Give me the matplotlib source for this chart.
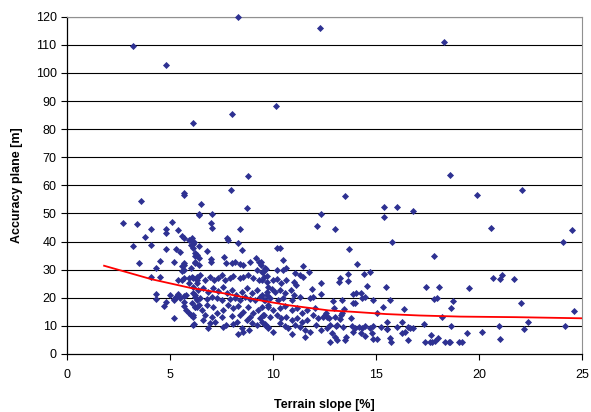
import numpy as np
import matplotlib
matplotlib.use('Agg')
import matplotlib.pyplot as plt

plt.rcParams['font.family'] = ['Liberation Sans', 'DejaVu Sans']

# (terrain slope [%], accuracy plane [m])
outlier_pts = [(3.2,109.7),(4.8,102.8),(8.3,119.8),(6.1,82.3),(8.0,85.3),(10.15,88.4),(8.8,63.4),
               (7.95,58.5),(12.3,115.9),(18.3,110.9),(18.6,63.7),(22.1,58.5),(13.5,56.2),(19.9,56.6),
               (16.8,50.9),(15.4,52.4),(16.0,52.4),(15.4,48.6),(12.35,49.8),(12.15,45.5),(13.0,44.5),
               (15.8,39.9),(13.7,37.2),(20.6,44.9),(24.5,44.1),(24.1,39.7),(17.8,34.9),(14.1,32.0)]

left_pts = [(2.7,46.5),(3.4,46.1),(4.1,44.5),(3.8,41.5),(3.2,38.5),(4.1,38.8),(3.5,32.5),(4.5,33.1),
            (4.3,30.6),(4.1,27.5),(4.5,27.3),(3.6,54.4),(5.1,46.9),(4.8,44.4),(4.8,43.0),(5.4,44.1),
            (5.6,42.1),(4.8,37.3),(5.3,37.4),(5.5,36.4),(5.2,32.6),(5.7,41.4),(5.9,40.7),(6.0,40.5),
            (6.1,39.3),(6.0,38.8),(6.1,37.7),(6.4,38.3),(6.2,35.8),(6.3,35.2),(5.7,32.2),(5.6,31.3),
            (5.7,29.9),(6.0,30.5),(6.2,32.2),(6.4,31.7),(5.4,26.3),(5.6,26.3),(5.7,26.9),(5.9,26.9),
            (6.3,27.5),(6.3,26.3),(6.3,25.1),(4.3,21.4),(4.3,19.5),(4.7,17.1),(4.8,18.6),(5.0,21.0),
            (5.2,19.4),(5.2,19.2),(5.3,20.2),(5.4,21.0),(5.5,19.8),(5.7,20.6),(5.8,21.0),(5.2,12.7),
            (5.7,18.6),(5.7,17.1),(5.8,15.7),(5.9,14.7),(6.0,13.9),(6.1,13.3),(6.1,10.3),(6.1,21.6),
            (6.2,21.0),(6.3,19.2),(6.4,17.4),(6.2,16.8),(6.4,49.5),(5.7,57.4),(5.7,56.7),(5.6,29.6),
            (5.7,31.5),(5.9,25.4),(6.1,27.0),(5.4,21.3),(5.3,20.4),(6.2,16.8)]

mid_pts = [(6.5,53.3),(6.4,49.7),(7.05,49.9),(7.0,46.7),(7.05,44.7),(8.75,51.8),(8.4,44.4),(7.75,41.2),
           (7.8,40.6),(8.3,39.4),(8.5,37.0),(6.05,41.2),(6.15,40.0),(6.8,36.7),(6.2,34.9),(6.4,34.0),
           (6.2,32.9),(7.0,33.7),(7.0,32.9),(7.6,34.4),(7.7,32.3),(8.0,32.3),(8.15,32.9),(8.4,32.0),
           (8.55,31.7),(8.9,32.9),(9.15,34.0),(9.3,32.9),(9.4,31.7),(9.2,29.9),(9.5,29.3),(9.65,30.1),
           (6.05,27.5),(6.3,26.9),(6.45,28.1),(6.7,26.3),(6.95,27.5),(7.15,26.3),(7.35,26.9),(7.5,28.1),
           (7.65,26.3),(7.9,26.9),(8.05,27.8),(8.4,26.9),(8.55,27.5),(8.8,28.1),(9.05,26.9),(9.3,26.3),
           (9.55,27.3),(9.7,27.8),
           (6.13,24.0),(6.37,22.8),(6.62,23.4),(6.86,22.2),(7.1,23.4),(7.35,22.5),(7.59,24.0),(7.75,21.6),
           (7.99,22.8),(8.2,21.0),(8.48,22.2),(8.72,23.4),(8.96,21.6),(9.21,22.8),(9.45,21.0),(9.69,22.2),
           (6.21,20.4),(6.46,19.8),(6.78,19.4),(7.02,20.4),(7.26,19.8),(7.51,19.2),(7.91,19.4),(8.15,19.8),
           (8.4,19.2),(8.64,20.2),(8.88,19.4),(9.13,19.2),(9.37,20.2),(9.61,19.2),
           (6.05,18.0),(6.29,16.8),(6.54,15.7),(6.78,17.4),(7.1,16.8),(7.26,14.5),(7.59,15.7),(7.83,17.4),
           (8.07,16.2),(8.32,17.1),(8.56,15.1),(8.8,16.8),(9.04,14.5),(9.29,15.7),(9.53,13.9),(9.77,16.8),
           (6.13,13.9),(6.7,13.9),(7.02,13.3),(7.51,13.3),(7.99,13.5),(8.4,13.9),(8.88,13.3),(9.37,12.7),
           (6.16,10.7),(6.62,12.1),(6.94,10.9),(7.18,11.5),(7.59,9.7),(7.72,10.3),(8.07,10.7),(8.24,11.5),
           (8.48,9.1),(8.72,12.1),(8.96,10.9),(9.21,10.3),(9.45,11.5),(9.61,10.7),(8.56,7.9),(8.32,7.1),
           (8.85,8.5),(9.77,9.7),(6.86,9.1)]

center_pts = [(10.2,37.6),(10.35,37.6),(10.5,33.4),(9.4,32.9),(9.6,30.5),(9.45,29.3),(10.2,29.9),(10.5,29.9),
              (10.65,30.5),(11.05,28.7),(11.3,28.1),(11.45,27.3),(11.45,31.3),(11.75,29.1),(9.45,26.3),(9.7,25.7),
              (10.0,26.3),(10.2,26.6),(10.4,25.1),(10.65,26.3),(11.0,25.7),(11.1,24.6),(11.9,23.0),(12.35,25.4),
              (9.75,24.0),(9.95,23.0),(10.1,22.2),(10.35,22.8),(10.6,21.6),(10.85,22.8),(11.0,21.0),(9.7,21.0),
              (9.55,19.2),(9.85,19.8),(10.25,19.2),(10.5,19.8),(10.9,19.2),(11.3,20.4),(11.8,19.8),(11.95,20.4),
              (9.45,16.8),(9.75,17.4),(10.0,15.7),(10.35,16.2),(10.6,17.1),(10.9,15.7),(11.15,16.2),(11.4,14.5),
              (11.65,15.7),(12.05,16.2),(12.55,14.5),(12.45,13.3),(12.7,12.7),(9.55,13.9),(9.85,13.3),(10.2,13.9),
              (10.4,12.7),(10.65,13.3),(10.9,12.1),(11.15,12.7),(11.4,11.5),(11.65,12.1),(11.95,13.9),(12.2,12.7),
              (9.6,10.3),(9.75,9.1),(10.0,7.9),(10.35,10.9),(10.6,10.0),(10.75,9.1),(10.9,7.0),(11.05,10.3),
              (11.3,9.7),(11.55,8.5),(11.8,7.9),(11.55,6.2),(12.1,10.3),(12.35,8.5),(12.6,9.1),(12.75,4.4),
              (13.0,6.2),(13.1,10.3)]

right_pts = [(13.65,28.5),(13.25,26.9),(13.2,25.6),(13.65,25.9),(14.4,28.5),(14.7,29.3),(14.55,24.2),(15.5,23.7),
             (12.9,19.0),(13.35,19.2),(13.9,21.4),(14.25,21.6),(14.3,20.0),(14.45,20.4),(13.9,18.0),(14.0,18.0),
             (14.85,19.2),(15.7,19.2),(12.95,16.2),(13.45,15.9),(13.35,14.5),(13.25,12.5),(13.8,12.7),(15.35,16.6),
             (16.35,15.9),(15.05,14.5),(15.55,11.5),(16.25,11.3),(12.75,10.3),(13.05,10.0),(13.4,9.7),(13.85,10.0),
             (14.0,9.1),(14.15,9.7),(14.3,9.1),(14.45,10.0),(14.7,9.1),(14.85,10.0),(15.25,9.7),(15.55,8.8),
             (16.0,9.7),(16.55,9.7),(12.85,7.3),(13.1,5.0),(13.55,6.2),(13.9,7.9),(14.25,7.3),(14.45,6.4),
             (14.8,7.3),(14.85,5.2),(15.05,5.2),(15.7,5.6),(15.75,4.4),(16.25,7.3),(16.4,7.9),(13.5,5.0),
             (16.55,5.0),(12.5,13.9),(12.6,13.3),(13.0,13.3),(13.3,13.9),(12.35,21.2),(14.05,21.6),(15.55,8.9),
             (16.65,9.1),(16.8,9.1),
             (17.45,23.9),(18.05,23.9),(17.8,19.6),(17.95,20.0),(18.2,13.0),(17.35,10.5),(17.65,6.7),(17.7,4.4),
             (17.4,4.1),(17.6,4.1),(17.85,4.6),(18.0,5.6),(18.35,4.1),(18.55,4.1),
             (19.5,23.3),(20.7,27.0),(21.0,26.7),(21.1,28.1),(21.7,26.6),(18.75,18.8),(18.65,16.2),(22.05,18.3),
             (24.6,15.3),(22.4,11.5),(18.65,10.0),(20.95,10.0),(24.15,10.0),(22.2,8.8),(19.4,7.3),(20.15,7.7),
             (21.0,5.3),(18.6,4.1),(19.05,4.1),(19.15,4.1)]

# red trend line
trend_x = [1.8, 4.1, 6.0, 7.6, 9.2, 10.8, 12.7, 13.9, 15.5, 17.1, 19.1, 21.8, 25.0]
trend_y = [31.4, 26.6, 23.5, 21.6, 19.3, 17.3, 15.5, 15.0, 14.2, 13.7, 13.3, 13.1, 12.7]

pts = np.array(outlier_pts + left_pts + mid_pts + center_pts + right_pts)

fig = plt.figure(figsize=(5.91, 4.12), dpi=100)
ax = fig.add_axes([0.1134, 0.1408, 0.8714, 0.8187])

for y in range(10, 121, 10):
    ax.axhline(y, color='black', lw=0.8, zorder=1)

ax.scatter(pts[:, 0], pts[:, 1], marker='D', s=13, color='#2E3192', linewidths=0,
           zorder=3, clip_on=False)
ax.plot(trend_x, trend_y, color='#FF0000', lw=1.3, zorder=4)

ax.set_xlim(0, 25)
ax.set_ylim(0, 120)
ax.set_xticks(np.arange(0, 26, 5))
ax.set_yticks(np.arange(0, 121, 10))
ax.tick_params(direction='out', length=4, width=0.8, labelsize=9, colors='black')
ax.tick_params(axis='x', pad=7)
ax.spines['top'].set_color('#909090')
ax.spines['right'].set_color('#909090')
ax.spines['left'].set_linewidth(0.9)
ax.spines['bottom'].set_linewidth(0.9)

ax.set_xlabel('Terrain slope [%]', fontsize=9, fontweight='bold', labelpad=13)
ax.set_ylabel('Accuracy plane [m]', fontsize=9, fontweight='bold', labelpad=9)

fig.savefig('out.png', dpi=100)
